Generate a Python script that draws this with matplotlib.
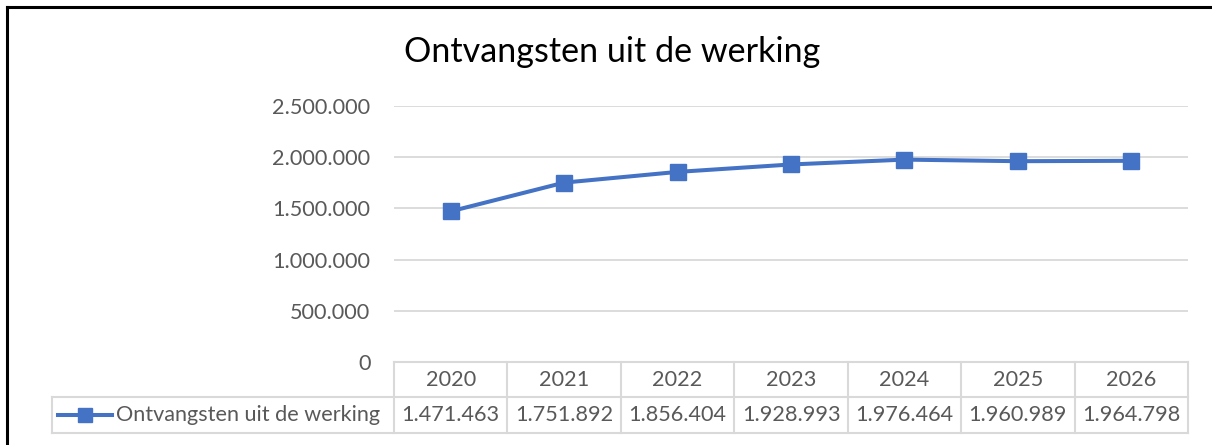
import matplotlib
matplotlib.use('Agg')
import matplotlib.pyplot as plt
import matplotlib.transforms as mtrans

jaren = ['2020', '2021', '2022', '2023', '2024', '2025', '2026']
ontvangsten = [1471463, 1751892, 1856404, 1928993, 1976464, 1960989, 1964798]
reeks = 'Ontvangsten uit de werking'
titel = 'Ontvangsten uit de werking'

def nl(v):
    return f'{v:,.0f}'.replace(',', '.')

plt.rcParams['font.family'] = ['Lato', 'DejaVu Sans']
blauw = '#4472C4'
grijs = '#D9D9D9'
tekst = '#595959'
fs = 15.6

fig = plt.figure(figsize=(12.12, 4.45), dpi=100)
ax = fig.add_axes([394/1212, 1-362/445, 794/1212, 256/445])

x = list(range(len(jaren)))
ax.plot(x, ontvangsten, color=blauw, lw=2.9, marker='s', ms=12, mfc=blauw, mec=blauw, zorder=3)

ax.set_xlim(-0.5, len(jaren)-0.5)
ax.set_ylim(0, 2500000)
ax.set_yticks(range(0, 2500001, 500000))
ax.set_yticklabels([nl(v) for v in range(0, 2500001, 500000)])
ax.tick_params(axis='y', length=0, pad=17, labelsize=fs, labelcolor=tekst)
ax.set_xticks([])
ax.grid(axis='y', color=grijs, lw=1.3)
ax.set_axisbelow(True)
for s in ax.spines.values():
    s.set_visible(False)

# datatabel onder de grafiek
tr = mtrans.blended_transform_factory(ax.transData, ax.transAxes)
r1 = -35/256
r2 = -71/256
links = -0.5 - 342*7/794
lk = dict(color=grijs, lw=1.5, clip_on=False, transform=tr)
ax.plot([-0.5, 6.5], [0, 0], **lk)
ax.plot([links, 6.5], [r1, r1], **lk)
ax.plot([links, 6.5], [r2, r2], **lk)
for i in range(len(jaren)+1):
    ax.plot([i-0.5, i-0.5], [0, r2], **lk)
ax.plot([links, links], [r1, r2], **lk)
for i, j in enumerate(jaren):
    ax.text(i, r1/2, j, ha='center', va='center', fontsize=fs, color=tekst, transform=tr)
    ax.text(i, (r1+r2)/2, nl(ontvangsten[i]), ha='center', va='center', fontsize=fs, color=tekst, transform=tr)

# legendasleutel in de tabel
ax.plot([links+0.05, links+0.53], [(r1+r2)/2]*2, color=blauw, lw=2.9, clip_on=False, transform=tr)
ax.plot([links+0.29], [(r1+r2)/2], marker='s', ms=10, color=blauw, clip_on=False, transform=tr)
ax.text(links+0.56, (r1+r2)/2, reeks, ha='left', va='center', fontsize=fs, color=tekst, transform=tr)

fig.text(612/1212, 1-52/445, titel, ha='center', va='center', fontsize=24.6, color='black')

# rand van de grafiek
fig.add_artist(plt.Line2D([7/1212, 7/1212], [0, 1-7/445], color='black', lw=2.2))
fig.add_artist(plt.Line2D([7/1212, 1], [1-7/445, 1-7/445], color='black', lw=2.2))

fig.savefig('out.png', dpi=100)
